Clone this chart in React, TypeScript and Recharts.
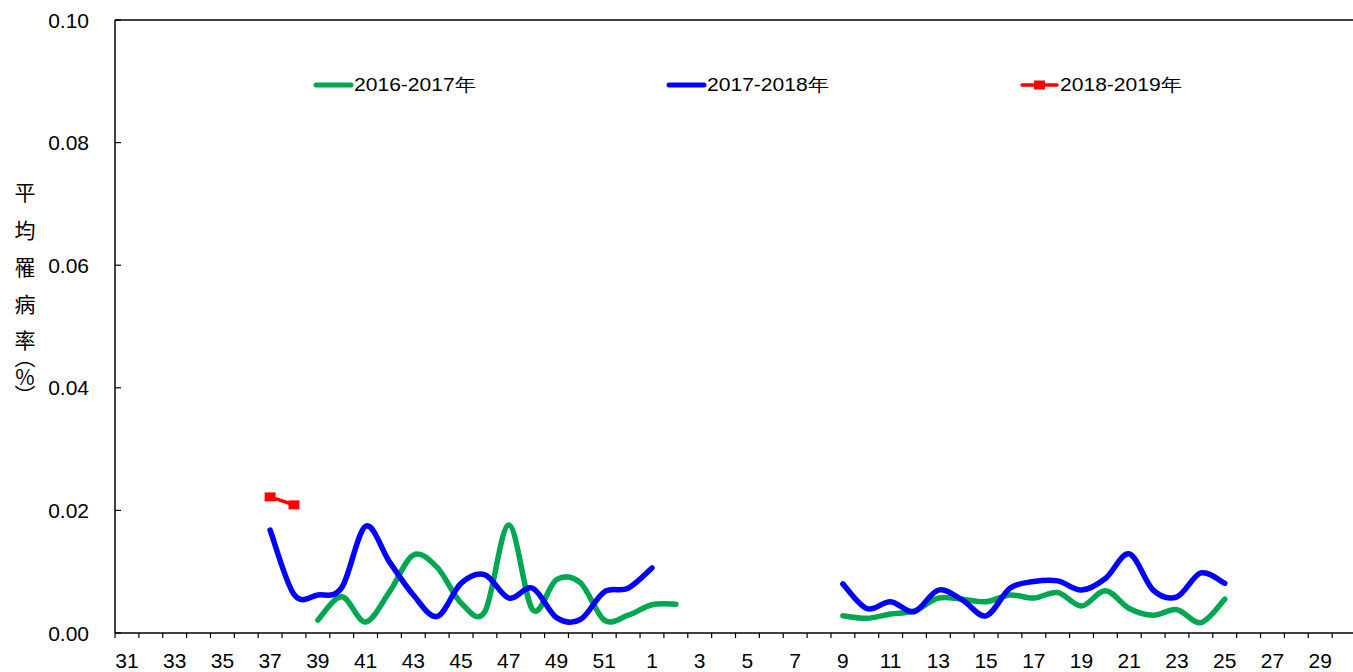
import React from 'react';
import { LineChart, Line, XAxis, YAxis, ReferenceLine } from 'recharts';

// 週次: 31週～52週、1週～30週
const weeks: string[] = [
  '31', '32', '33', '34', '35', '36', '37', '38', '39', '40', '41',
  '42', '43', '44', '45', '46', '47', '48', '49', '50', '51', '52',
  '1', '2', '3', '4', '5', '6', '7', '8', '9', '10', '11', '12', '13',
  '14', '15', '16', '17', '18', '19', '20', '21', '22', '23', '24',
  '25', '26', '27', '28', '29', '30',
];

const season2016: (number | null)[] = [
  null, null, null, null, null, null, null, null,
  0.0021, 0.0059, 0.0018, 0.0067, 0.0127, 0.0107, 0.0049, 0.0035,
  0.0176, 0.0038, 0.0087, 0.0082, 0.0021, 0.0029,
  0.0046, 0.0047, null, null, null, null, null, null,
  0.0028, 0.0024, 0.0031, 0.0036, 0.0057, 0.0055, 0.0051, 0.0062,
  0.0057, 0.0066, 0.0044, 0.0069, 0.0040, 0.0029, 0.0038, 0.0017,
  0.0055, null, null, null, null, null,
];

const season2017: (number | null)[] = [
  null, null, null, null, null, null,
  0.0168, 0.0063, 0.0062, 0.0074, 0.0174, 0.0116, 0.0062, 0.0027,
  0.0081, 0.0095, 0.0057, 0.0073, 0.0025, 0.0022, 0.0067, 0.0073,
  0.0106, null, null, null, null, null, null, null,
  0.0080, 0.0040, 0.0051, 0.0035, 0.0070, 0.0054, 0.0028, 0.0073,
  0.0084, 0.0085, 0.0070, 0.0089, 0.0129, 0.0070, 0.0059, 0.0098,
  0.0081, null, null, null, null, null,
];

const season2018: (number | null)[] = [
  null, null, null, null, null, null, 0.0222, 0.0209,
];

const yTicks = [0, 0.02, 0.04, 0.06, 0.08, 0.1];
const yTitle = ['平', '均', '罹', '病', '率', '︵', '%', '︶'];

const data = weeks.map((w, i) => ({
  week: w,
  s2016: season2016[i] ?? null,
  s2017: season2017[i] ?? null,
  s2018: season2018[i] ?? null,
}));

const CHART_W = 1360;
const CHART_H = 672;
const LEFT = 115;
const RIGHT = 4;
const HALF_BAND = (CHART_W - LEFT - RIGHT) / weeks.length / 2;
const FONT = '"Liberation Sans", Arial, sans-serif';

// Excel風のスムージング線 (Catmull-Rom)
const excelSmooth: any = (context: any) => {
  let pts: number[][] = [];
  return {
    areaStart() {},
    areaEnd() {},
    lineStart() {
      pts = [];
    },
    point(x: number, y: number) {
      pts.push([+x, +y]);
    },
    lineEnd() {
      if (!pts.length) return;
      context.moveTo(pts[0][0], pts[0][1]);
      if (pts.length === 1) {
        context.lineTo(pts[0][0], pts[0][1]);
        return;
      }
      for (let i = 0; i < pts.length - 1; i++) {
        const p0 = pts[i - 1] || pts[i];
        const p1 = pts[i];
        const p2 = pts[i + 1];
        const p3 = pts[i + 2] || p2;
        context.bezierCurveTo(
          p1[0] + (p2[0] - p0[0]) / 6,
          p1[1] + (p2[1] - p0[1]) / 6,
          p2[0] - (p3[0] - p1[0]) / 6,
          p2[1] - (p3[1] - p1[1]) / 6,
          p2[0],
          p2[1]
        );
      }
    },
  };
};

const XTick = (props: any) => {
  const { x, y, payload, index } = props;
  return (
    <g>
      <line x1={x - HALF_BAND} x2={x - HALF_BAND} y1={y} y2={y + 5} stroke="#000" strokeWidth={1.2} />
      {index % 2 === 0 && (
        <text x={x} y={y + 35} textAnchor="middle" fontFamily={FONT} fontSize={21} fill="#000">
          {payload.value}
        </text>
      )}
    </g>
  );
};

const YTick = (props: any) => {
  const { x, y, payload } = props;
  return (
    <g>
      <line x1={x + 26} x2={x + 32} y1={y} y2={y} stroke="#000" strokeWidth={1.2} />
      <text x={x} y={y} dy="0.36em" textAnchor="end" fontFamily={FONT} fontSize={21} fill="#000">
        {payload.value.toFixed(2)}
      </text>
    </g>
  );
};

// 縦書きの軸タイトル
const YTitle = () => (
  <text
    x={25}
    textAnchor="middle"
    fontFamily={'"Noto Sans CJK TC", sans-serif'}
    fontSize={21}
    fill="#000"
  >
    {yTitle.map((c, i) => (
      <tspan key={i} x={25} y={[200, 238, 275, 312, 348, 365, 385, 403][i]}>
        {c}
      </tspan>
    ))}
  </text>
);

const SquareDot = (props: any) => {
  const { cx, cy } = props;
  if (cx == null || cy == null) return null;
  return <rect x={cx - 5.5} y={cy - 4.5} width={11} height={9} fill="#FF0000" />;
};

const legendItems = [
  { name: '2016-2017年', color: '#00A650', marker: false },
  { name: '2017-2018年', color: '#0000FF', marker: false },
  { name: '2018-2019年', color: '#FF0000', marker: true },
];

const Legend = () => (
  <div style={{ position: 'absolute', left: 313, top: 73, display: 'flex' }}>
    {legendItems.map((item) => (
      <div key={item.name} style={{ width: 353, display: 'flex', alignItems: 'center', height: 24 }}>
        <svg width={41} height={14}>
          <line
            x1={3}
            x2={38}
            y1={7}
            y2={7}
            stroke={item.color}
            strokeWidth={item.marker ? 3.5 : 5}
            strokeLinecap="round"
          />
          {item.marker && <rect x={15} y={2.5} width={11} height={9} fill={item.color} />}
        </svg>
        <span
          style={{
            fontFamily: FONT,
            fontSize: 18,
            color: '#000',
            display: 'inline-block',
            transform: 'scaleX(1.17)',
            transformOrigin: 'left center',
            whiteSpace: 'nowrap',
          }}
        >
          {item.name}
        </span>
      </div>
    ))}
  </div>
);

export default function App() {
  return (
    <div
      style={{
        position: 'fixed',
        left: 0,
        top: 0,
        width: 1353,
        height: 672,
        overflow: 'hidden',
        background: '#fff',
      }}
    >
      <LineChart
        width={CHART_W}
        height={CHART_H}
        data={data}
        margin={{ top: 20, right: RIGHT, bottom: 0, left: 0 }}
      >
        <XAxis
          dataKey="week"
          scale="band"
          height={39}
          interval={0}
          tickLine={false}
          tickSize={0}
          tickMargin={0}
          axisLine={{ stroke: '#000', strokeWidth: 1.5 }}
          tick={(p: any) => <XTick {...p} />}
        />
        <YAxis
          width={LEFT}
          domain={[0, 0.1]}
          ticks={yTicks}
          interval={0}
          tickLine={false}
          tickSize={0}
          tickMargin={26}
          axisLine={{ stroke: '#000', strokeWidth: 1.5 }}
          tick={(p: any) => <YTick {...p} />}
          label={<YTitle />}
        />
        <ReferenceLine y={0.1} stroke="#000" strokeWidth={1.5} />
        <Line
          dataKey="s2016"
          type={excelSmooth}
          stroke="#00A650"
          strokeWidth={5.5}
          strokeLinecap="round"
          strokeLinejoin="round"
          dot={false}
          activeDot={false}
          isAnimationActive={false}
        />
        <Line
          dataKey="s2017"
          type={excelSmooth}
          stroke="#0000FF"
          strokeWidth={5.5}
          strokeLinecap="round"
          strokeLinejoin="round"
          dot={false}
          activeDot={false}
          isAnimationActive={false}
        />
        <Line
          dataKey="s2018"
          type={excelSmooth}
          stroke="#FF0000"
          strokeWidth={3.5}
          dot={(p: any) => <SquareDot key={p.index} {...p} />}
          activeDot={false}
          isAnimationActive={false}
        />
      </LineChart>
      <Legend />
    </div>
  );
}
